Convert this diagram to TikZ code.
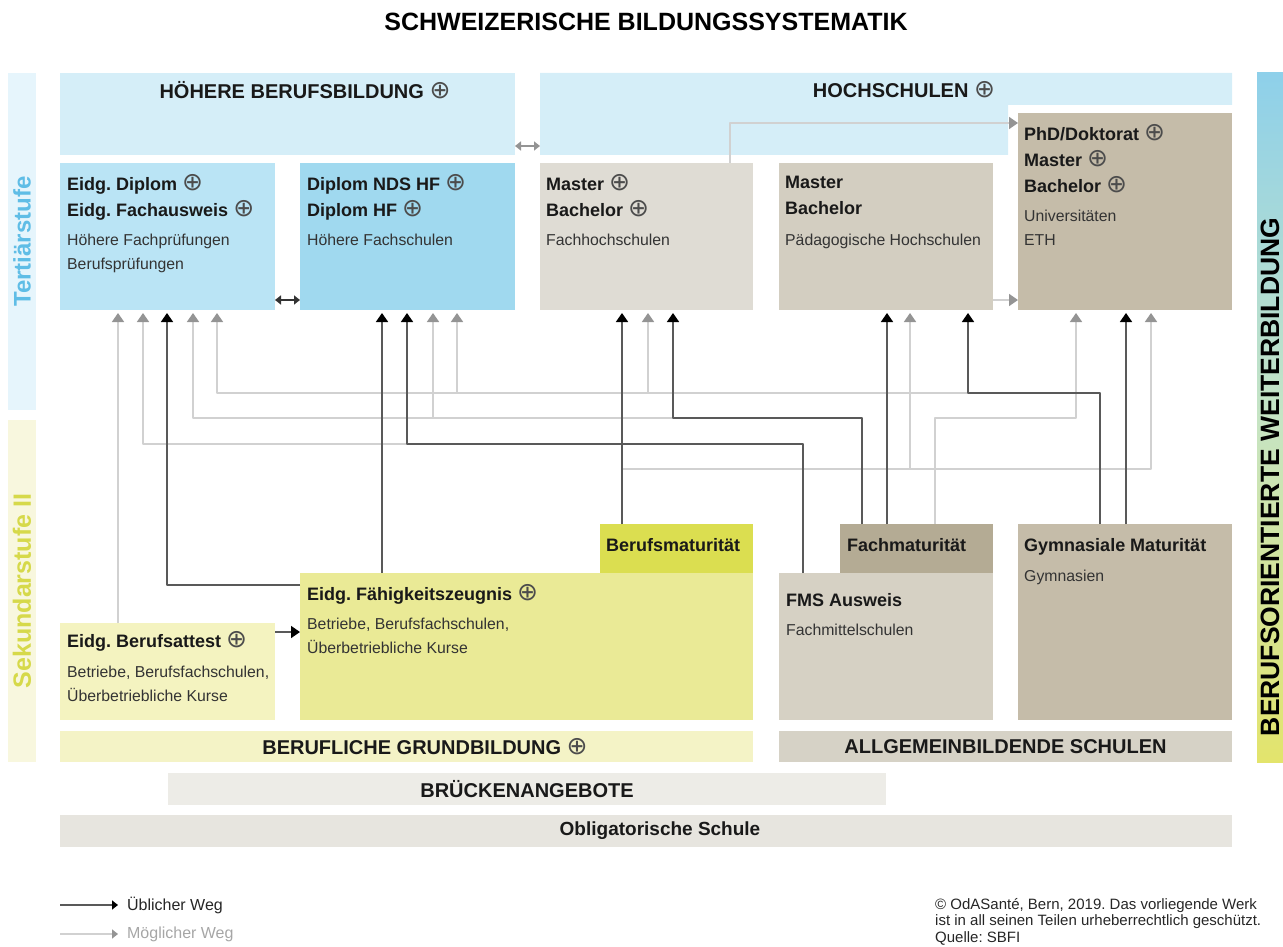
\documentclass[tikz,border=0pt]{standalone}
\usepackage{fontspec}
\setmainfont{Liberation Sans}
\newfontfamily\symfont{DejaVu Sans}
\usetikzlibrary{arrows.meta,positioning}
\frenchspacing

\definecolor{cBand}{HTML}{D5EEF8}
\definecolor{cDipl}{HTML}{BAE4F5}
\definecolor{cHF}{HTML}{A0D9EF}
\definecolor{cFH}{HTML}{DFDCD4}
\definecolor{cPH}{HTML}{D3CEC1}
\definecolor{cUni}{HTML}{C5BCA9}
\definecolor{cBM}{HTML}{DBDE50}
\definecolor{cEFZ}{HTML}{EAEA96}
\definecolor{cEBA}{HTML}{F4F3C0}
\definecolor{cFMS}{HTML}{D6D1C4}
\definecolor{cFM}{HTML}{B4AB94}
\definecolor{cGB}{HTML}{F4F3C6}
\definecolor{cAS}{HTML}{D6D2C6}
\definecolor{cBr}{HTML}{EDECE7}
\definecolor{cObl}{HTML}{E7E5DF}
\definecolor{cTertBar}{HTML}{E6F5FC}
\definecolor{cTertTxt}{HTML}{5FBDE6}
\definecolor{cSekBar}{HTML}{F8F7DE}
\definecolor{cSekTxt}{HTML}{D6D94A}
\definecolor{cWbTop}{HTML}{8ED0EA}
\definecolor{cWbMid}{HTML}{C6E4C4}
\definecolor{cWbBot}{HTML}{E3E46C}

\newcommand{\plusi}{{\symfont\mdseries\fontsize{25}{21}\selectfont\color{black!70}⊕}}
\newcommand{\hdfont}{\fontsize{18}{26}\selectfont\bfseries}
\newcommand{\txfont}{\fontsize{15.8}{24}\selectfont}
\newcommand{\bandfont}{\fontsize{20}{24}\selectfont\bfseries}

\begin{document}
\begin{tikzpicture}[x=1pt, y=-1pt, line join=round,
	box/.style={rectangle, inner sep=0pt, outer sep=0pt, anchor=north west},
	head/.style={anchor=north west, inner sep=0pt, align=left, font=\hdfont, text=black!90},
	sub/.style={anchor=north west, inner sep=0pt, align=left, font=\txfont, text=black!80},
	bandlabel/.style={inner sep=0pt, font=\bandfont, text=black!90},
	usual/.style={draw=black!65, line width=1.6pt, -{Triangle[width=12pt,length=9pt,color=black]}, shorten >=3pt},
	maybe/.style={draw=black!18, line width=1.6pt, -{Triangle[width=12pt,length=9pt,color=black!42]}, shorten >=3pt},
	twoway/.style={line width=1.6pt, {Triangle[width=9pt,length=6pt]}-{Triangle[width=9pt,length=6pt]}}]
	\useasboundingbox (0,0) rectangle (1283,947);
	\node[font=\fontsize{25}{30}\selectfont\bfseries] (title) at (646,22) {SCHWEIZERISCHE BILDUNGSSYSTEMATIK};

	% side bars
	\node[box, fill=cTertBar, minimum width=28pt, minimum height=337pt] (tbar) at (8,73) {};
	\node[box, fill=cSekBar, minimum width=28pt, minimum height=342pt] (sbar) at (8,420) {};
	\node[rotate=90, font=\fontsize{24}{24}\selectfont\bfseries, text=cTertTxt] (tlab) at (tbar.center) {Tertiärstufe};
	\node[rotate=90, font=\fontsize{25}{25}\selectfont\bfseries, text=cSekTxt] (slab) at (sbar.center) {Sekundarstufe II};
	\node[box, top color=cWbTop, bottom color=cWbBot, middle color=cWbMid, minimum width=26pt, minimum height=689pt] (wbar) at (1257,73) {};
	\node[rotate=90, font=\fontsize{26.5}{26}\selectfont\bfseries] (wlab) at (1270,477) {BERUFSORIENTIERTE WEITERBILDUNG};

	% tertiary level
	\node[box, fill=cBand, minimum width=455pt, minimum height=82pt] (hbb) at (60,73) {};
	\node[bandlabel] (hbbl) at (305,90) {HÖHERE BERUFSBILDUNG \plusi};
	\fill[cBand] (540,73) -- (1232,73) -- (1232,105) -- (1008,105) -- (1008,155) -- (540,155) -- cycle;
	\coordinate (hochsw) at (540,155);
	\node[bandlabel] (hochl) at (904,90) {HOCHSCHULEN \plusi};

	\node[box, fill=cDipl, minimum width=215pt, minimum height=147pt] (dipl) at (60,163) {};
	\node[box, fill=cHF, minimum width=215pt, minimum height=147pt] (hf) at (300,163) {};
	\node[box, fill=cFH, minimum width=213pt, minimum height=147pt] (fh) at (540,163) {};
	\node[box, fill=cPH, minimum width=214pt, minimum height=147pt] (ph) at (779,163) {};
	\node[box, fill=cUni, minimum width=214pt, minimum height=197pt] (uni) at (1018,113) {};

	\node[head] (diplh) at ([shift={(7pt,-11pt)}]dipl.north west) {Eidg. Diplom \plusi\\Eidg. Fachausweis \plusi};
	\node[sub] (diplt) at ([shift={(7pt,-71pt)}]dipl.north west) {Höhere Fachprüfungen\\Berufsprüfungen};
	\node[head] (hfh) at ([shift={(7pt,-11pt)}]hf.north west) {Diplom NDS HF \plusi\\Diplom HF \plusi};
	\node[sub] (hft) at ([shift={(7pt,-71pt)}]hf.north west) {Höhere Fachschulen};
	\node[head] (fhh) at ([shift={(6pt,-11pt)}]fh.north west) {Master \plusi\\Bachelor \plusi};
	\node[sub] (fht) at ([shift={(6pt,-71pt)}]fh.north west) {Fachhochschulen};
	\node[head] (phh) at ([shift={(6pt,-13pt)}]ph.north west) {Master\\Bachelor};
	\node[sub] (pht) at ([shift={(6pt,-71pt)}]ph.north west) {Pädagogische Hochschulen};
	\node[head] (unih) at ([shift={(6pt,-11pt)}]uni.north west) {PhD/Doktorat \plusi\\Master \plusi\\Bachelor \plusi};
	\node[sub] (unit) at ([shift={(6pt,-97pt)}]uni.north west) {Universitäten\\ETH};

	% secondary level II
	\node[box, fill=cEFZ, minimum width=453pt, minimum height=147pt] (efz) at (300,573) {};
	\node[box, fill=cBM, minimum width=153pt, minimum height=49pt] (bm) at (600,524) {};
	\node[box, fill=cEBA, minimum width=215pt, minimum height=97pt] (eba) at (60,623) {};
	\node[box, fill=cFMS, minimum width=214pt, minimum height=147pt] (fms) at (779,573) {};
	\node[box, fill=cFM, minimum width=153pt, minimum height=49pt] (fm) at (840,524) {};
	\node[box, fill=cUni, minimum width=214pt, minimum height=196pt] (gym) at (1018,524) {};

	\node[head] (bmh) at ([shift={(6pt,-14pt)}]bm.north west) {Berufsmaturität};
	\node[head] (efzh) at ([shift={(7pt,-11pt)}]efz.north west) {Eidg. Fähigkeitszeugnis \plusi};
	\node[sub] (efzt) at ([shift={(7pt,-45pt)}]efz.north west) {Betriebe, Berufsfachschulen,\\Überbetriebliche Kurse};
	\node[head] (ebah) at ([shift={(7pt,-8pt)}]eba.north west) {Eidg. Berufsattest \plusi};
	\node[sub] (ebat) at ([shift={(7pt,-43pt)}]eba.north west) {Betriebe, Berufsfachschulen,\\Überbetriebliche Kurse};
	\node[head] (fmh) at ([shift={(7pt,-14pt)}]fm.north west) {Fachmaturität};
	\node[head] (fmsh) at ([shift={(7pt,-20pt)}]fms.north west) {FMS Ausweis};
	\node[sub] (fmst) at ([shift={(7pt,-51pt)}]fms.north west) {Fachmittelschulen};
	\node[head] (gymh) at ([shift={(6pt,-14pt)}]gym.north west) {Gymnasiale Maturität};
	\node[sub] (gymt) at ([shift={(6pt,-46pt)}]gym.north west) {Gymnasien};

	% bands at the bottom
	\node[box, fill=cGB, minimum width=693pt, minimum height=31pt] (gb) at (60,731) {};
	\node[bandlabel] (gbl) at (425,747) {BERUFLICHE GRUNDBILDUNG \plusi};
	\node[box, fill=cAS, minimum width=453pt, minimum height=31pt] (as) at (779,731) {};
	\node[bandlabel] (asl) at (as.center) {ALLGEMEINBILDENDE SCHULEN};
	\node[box, fill=cBr, minimum width=718pt, minimum height=32pt] (br) at (168,773) {};
	\node[bandlabel] (brl) at (br.center) {BRÜCKENANGEBOTE};
	\node[box, fill=cObl, minimum width=1172pt, minimum height=32pt] (obl) at (60,815) {};
	\node[bandlabel, font=\fontsize{19}{24}\selectfont\bfseries] (obll) at (660,831) {Obligatorische Schule};

	% rails of the paths
	\coordinate (railA) at (0,393);
	\coordinate (railB) at (0,418);
	\coordinate (railC) at (0,444);
	\coordinate (railD) at (0,469);

	% possible paths
	\draw[maybe] (eba.north -| 118,0) -- (dipl.south -| 118,0);
	\draw[maybe] (fms.north -| 803,0) |- (railC -| 143,0) -- (dipl.south -| 143,0);
	\draw[maybe] (fm.north -| 862,0) |- (railB -| 193,0) -- (dipl.south -| 193,0);
	\draw[maybe] (railB -| 433,0) -- (hf.south -| 433,0);
	\draw[maybe] (gym.north -| 1100,0) |- (railA -| 217,0) -- (dipl.south -| 217,0);
	\draw[maybe] (railA -| 457,0) -- (hf.south -| 457,0);
	\draw[maybe] (railA -| 648,0) -- (fh.south -| 648,0);
	\draw[maybe] (bm.north -| 622,0) |- (railD -| 1151,0) -- (uni.south -| 1151,0);
	\draw[maybe] (railD -| 910,0) -- (ph.south -| 910,0);
	\draw[maybe] (fm.north -| 935,0) |- (railB -| 1076,0) -- (uni.south -| 1076,0);
	\draw[maybe, shorten >=0pt] (fh.north -| 730,0) |- ([yshift=-10pt]uni.north west);
	\draw[maybe, shorten >=0pt] ([yshift=10pt]ph.south east) -- (uni.west |- 0,300);
	\draw[twoway, draw=black!18, color=black!42] ([yshift=9pt]hbb.south east) -- ([yshift=9pt]hochsw);

	% usual paths
	\foreach \s/\t/\x in {efz/hf/382, bm/fh/622, fm/ph/887, gym/uni/1126}
		\draw[usual] (\s.north -| \x,0) -- (\t.south -| \x,0);
	\draw[usual] ([yshift=-12pt]efz.north west) -| (dipl.south -| 167,0);
	\draw[usual] (fms.north -| 803,0) |- (railC -| 407,0) -- (hf.south -| 407,0);
	\draw[usual] (fm.north -| 862,0) |- (railB -| 673,0) -- (fh.south -| 673,0);
	\draw[usual] (gym.north -| 1100,0) |- (railA -| 968,0) -- (ph.south -| 968,0);
	\draw[usual, shorten >=0pt] ([yshift=-9pt]eba.north east) -- (efz.west |- 0,632);
	\draw[twoway, draw=black!80] ([yshift=10pt]dipl.south east) -- (hf.west |- 0,300);

	% legend
	\coordinate (lgA) at (60,905);
	\coordinate (lgB) at (60,934);
	\draw[usual, shorten >=0pt, -{Triangle[width=9pt,length=6pt,color=black]}] (lgA) -- ++(58,0) node[right=5pt, font=\fontsize{16}{16}\selectfont, text=black!85] (lgAt) {Üblicher Weg};
	\draw[maybe, shorten >=0pt, -{Triangle[width=9pt,length=6pt,color=black!42]}] (lgB) -- ++(58,0) node[right=5pt, font=\fontsize{16}{16}\selectfont, text=black!35] (lgBt) {Möglicher Weg};
	\node[anchor=north west, inner sep=0pt, align=left, font=\fontsize{15}{16.5}\selectfont, text=black!85] (copy) at (935,898) {© OdASanté, Bern, 2019. Das vorliegende Werk\\ist in all seinen Teilen urheberrechtlich geschützt.\\Quelle: SBFI};
\end{tikzpicture}
\end{document}
